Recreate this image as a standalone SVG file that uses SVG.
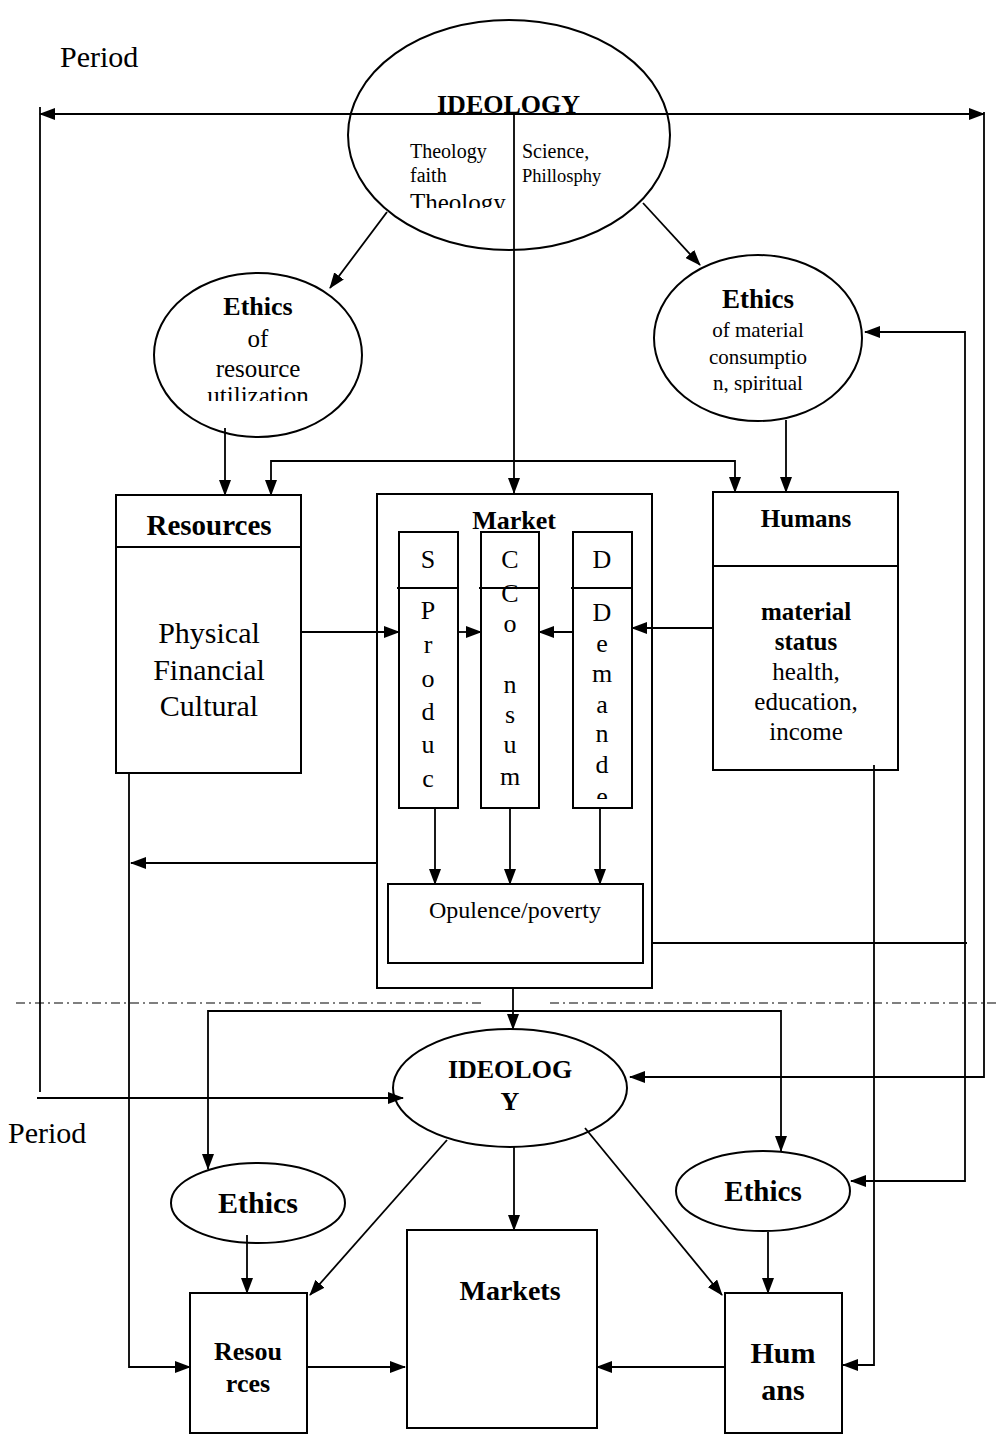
<svg xmlns="http://www.w3.org/2000/svg" width="1000" height="1436" viewBox="0 0 1000 1436">
<style>
text{font-family:"Liberation Serif","Times New Roman",serif;fill:#000}
.b{font-weight:bold}
.c{text-anchor:middle}
.n{fill:#fff;stroke:#000;stroke-width:2}
.l{fill:none;stroke:#000;stroke-width:1.8}
.ar{marker-end:url(#a)}
.as{marker-start:url(#a)}
.dash{fill:none;stroke:#000;stroke-width:1.2;stroke-dasharray:9 4 2 4}
</style>
<defs>
<marker id="a" markerWidth="16" markerHeight="12" refX="15" refY="6" orient="auto-start-reverse" markerUnits="userSpaceOnUse"><path d="M0,0 L16,6 L0,12 Z" fill="#000"/></marker>
<clipPath id="cTheo"><rect x="400" y="170" width="112" height="38"/></clipPath>
<clipPath id="cUtil"><rect x="150" y="380" width="220" height="21"/></clipPath>
<clipPath id="cSpir"><rect x="650" y="365" width="220" height="28"/></clipPath>
<clipPath id="cDe"><rect x="573" y="780" width="59" height="19"/></clipPath>
</defs>

<text x="60" y="67" font-size="30">Period</text>
<text x="8" y="1143" font-size="30">Period</text>

<g id="ideology-top">
<ellipse class="n" cx="509" cy="135" rx="161" ry="115"/>
<text class="b" x="437" y="113" font-size="26">IDEOLOGY</text>
<text x="410" y="158" font-size="20">Theology</text>
<text x="410" y="182" font-size="20">faith</text>
<text x="410" y="211" font-size="25" clip-path="url(#cTheo)">Theology</text>
<text x="522" y="158" font-size="20">Science,</text>
<text x="522" y="182" font-size="18.5">Phillosphy</text>
</g>

<g id="ethics-resource">
<ellipse class="n" cx="258" cy="355" rx="104" ry="82"/>
<text class="b c" x="258" y="315" font-size="26">Ethics</text>
<text class="c" x="258" y="347" font-size="25">of</text>
<text class="c" x="258" y="377" font-size="25">resource</text>
<text class="c" x="258" y="404" font-size="25" clip-path="url(#cUtil)">utilization</text>
</g>

<g id="ethics-consumption">
<ellipse class="n" cx="758" cy="338" rx="104" ry="83"/>
<text class="b c" x="758" y="308" font-size="27">Ethics</text>
<text class="c" x="758" y="337" font-size="21">of material</text>
<text class="c" x="758" y="364" font-size="21">consumptio</text>
<text class="c" x="758" y="390" font-size="21" clip-path="url(#cSpir)">n, spiritual</text>
</g>

<g id="resources-top">
<rect class="n" x="116" y="495" width="185" height="278"/>
<line class="l" x1="116" y1="547" x2="301" y2="547"/>
<text class="b c" x="209" y="535" font-size="29">Resources</text>
<text class="c" x="209" y="643" font-size="30">Physical</text>
<text class="c" x="209" y="680" font-size="30">Financial</text>
<text class="c" x="209" y="716" font-size="30">Cultural</text>
</g>

<g id="market">
<rect class="n" x="377" y="494" width="275" height="494"/>
<text class="b c" x="514" y="529" font-size="26">Market</text>
</g>

<g id="supply">
<rect class="n" x="399" y="532" width="59" height="276"/>
<line class="l" x1="397" y1="588" x2="458" y2="588"/>
<text class="c" x="428" y="568" font-size="26">S</text>
<text class="c" x="428" y="619" font-size="26">P</text>
<text class="c" x="428" y="653" font-size="26">r</text>
<text class="c" x="428" y="687" font-size="26">o</text>
<text class="c" x="428" y="720" font-size="26">d</text>
<text class="c" x="428" y="753" font-size="26">u</text>
<text class="c" x="428" y="787" font-size="26">c</text>
</g>

<g id="consumption">
<rect class="n" x="481" y="532" width="58" height="276"/>
<text class="c" x="510" y="568" font-size="26">C</text>
<text class="c" x="510" y="602" font-size="26">C</text>
<line class="l" x1="479" y1="588" x2="539" y2="588"/>
<text class="c" x="510" y="632" font-size="26">o</text>
<text class="c" x="510" y="693" font-size="26">n</text>
<text class="c" x="510" y="723" font-size="26">s</text>
<text class="c" x="510" y="753" font-size="26">u</text>
<text class="c" x="510" y="785" font-size="26">m</text>
</g>

<g id="demand">
<rect class="n" x="573" y="532" width="59" height="276"/>
<line class="l" x1="571" y1="588" x2="632" y2="588"/>
<text class="c" x="602" y="568" font-size="26">D</text>
<text class="c" x="602" y="621" font-size="26">D</text>
<text class="c" x="602" y="652" font-size="26">e</text>
<text class="c" x="602" y="682" font-size="26">m</text>
<text class="c" x="602" y="713" font-size="26">a</text>
<text class="c" x="602" y="742" font-size="26">n</text>
<text class="c" x="602" y="773" font-size="26">d</text>
<text class="c" x="602" y="805" font-size="26" clip-path="url(#cDe)">e</text>
</g>

<g id="opulence">
<rect class="n" x="388" y="884" width="255" height="79"/>
<text class="c" x="515" y="918" font-size="24">Opulence/poverty</text>
</g>

<g id="humans-top">
<rect class="n" x="713" y="492" width="185" height="278"/>
<line class="l" x1="713" y1="566" x2="898" y2="566"/>
<text class="b c" x="806" y="527" font-size="25">Humans</text>
<text class="b c" x="806" y="620" font-size="25">material</text>
<text class="b c" x="806" y="650" font-size="25">status</text>
<text class="c" x="806" y="680" font-size="25">health,</text>
<text class="c" x="806" y="710" font-size="25">education,</text>
<text class="c" x="806" y="740" font-size="25">income</text>
</g>

<g id="ideology-bottom">
<ellipse class="n" cx="510" cy="1088" rx="117" ry="59"/>
<text class="b c" x="510" y="1078" font-size="26">IDEOLOG</text>
<text class="b c" x="510" y="1110" font-size="26">Y</text>
</g>

<g id="ethics-bottom-left">
<ellipse class="n" cx="258" cy="1203" rx="87" ry="40"/>
<text class="b c" x="258" y="1213" font-size="30">Ethics</text>
</g>

<g id="ethics-bottom-right">
<ellipse class="n" cx="763" cy="1191" rx="87" ry="40"/>
<text class="b c" x="763" y="1201" font-size="29">Ethics</text>
</g>

<g id="resources-bottom">
<rect class="n" x="190" y="1293" width="117" height="140"/>
<text class="b c" x="248" y="1360" font-size="26">Resou</text>
<text class="b c" x="248" y="1392" font-size="26">rces</text>
</g>

<g id="markets-bottom">
<rect class="n" x="407" y="1230" width="190" height="198"/>
<text class="b c" x="510" y="1300" font-size="28">Markets</text>
</g>

<g id="humans-bottom">
<rect class="n" x="725" y="1293" width="117" height="140"/>
<text class="b c" x="783" y="1363" font-size="30">Hum</text>
<text class="b c" x="783" y="1400" font-size="30">ans</text>
</g>

<g id="connectors">
<path class="l as ar" d="M40,114 H984"/>
<path class="l" d="M40,107 V1092"/>
<path class="l ar" d="M37,1098 H403"/>
<path class="l ar" d="M984,112 V1077 H630"/>
<path class="l ar" d="M514,114 V493"/>
<path class="l ar" d="M387,212 L330,288"/>
<path class="l ar" d="M643,203 L700,265"/>
<path class="l ar" d="M225,428 V495"/>
<path class="l as ar" d="M271,495 V461 H735 V492"/>
<path class="l ar" d="M786,420 V492"/>
<path class="l as ar" d="M865,332 H965 V1181 H851"/>
<path class="l ar" d="M302,632 H399"/>
<path class="l ar" d="M458,632 H481"/>
<path class="l ar" d="M573,632 H539"/>
<path class="l ar" d="M713,628 H632"/>
<path class="l ar" d="M435,808 V884"/>
<path class="l ar" d="M510,808 V884"/>
<path class="l ar" d="M600,808 V884"/>
<path class="l ar" d="M376,863 H131"/>
<path class="l" d="M653,943 H967"/>
<path class="l ar" d="M129,773 V1367 H190"/>
<path class="l ar" d="M874,765 V1365 H843"/>
<path class="l ar" d="M513,988 V1029"/>
<path class="l as ar" d="M208,1169 V1011 H781 V1151"/>
<path class="l ar" d="M247,1235 V1293"/>
<path class="l ar" d="M768,1232 V1293"/>
<path class="l ar" d="M447,1140 L310,1295"/>
<path class="l ar" d="M585,1128 L722,1295"/>
<path class="l ar" d="M514,1147 V1230"/>
<path class="l ar" d="M307,1367 H405"/>
<path class="l ar" d="M725,1367 H597"/>
<path class="dash" d="M16,1003 H481 M550,1003 H1000"/>
</g>
</svg>
